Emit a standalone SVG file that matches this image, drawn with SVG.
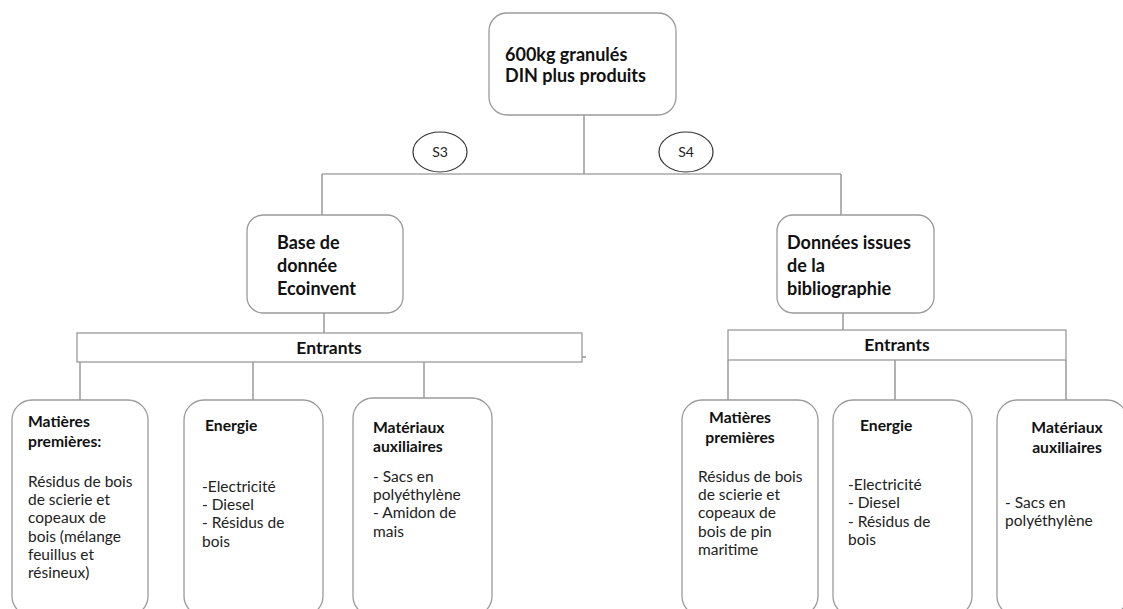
<svg xmlns="http://www.w3.org/2000/svg" width="1123" height="609" viewBox="0 0 1123 609">
<style>
.box{fill:#fff;stroke:#9a9a9a;stroke-width:1.3}
.ent{fill:#fff;stroke:#9a9a9a;stroke-width:1.3}
.ell{fill:#fff;stroke:#333;stroke-width:1.2}
.ln{stroke:#7f7f7f;stroke-width:1.2;fill:none}
.b{font-family:Lato,"Liberation Sans",sans-serif;font-weight:bold;font-size:18px;fill:#111}
.e{font-family:Lato,"Liberation Sans",sans-serif;font-weight:bold;font-size:17.5px;fill:#111}
.h{font-family:Lato,"Liberation Sans",sans-serif;font-weight:bold;font-size:15.7px;fill:#111}
.t{font-family:Lato,"Liberation Sans",sans-serif;font-size:15.5px;fill:#222}
.s{font-family:Lato,"Liberation Sans",sans-serif;font-size:14px;fill:#222}
</style>
<rect width="1123" height="609" fill="#fff"/>
<g id="connectors">
<line class="ln" x1="584" y1="115" x2="584" y2="174"/>
<line class="ln" x1="322" y1="174" x2="841" y2="174"/>
<line class="ln" x1="322" y1="174" x2="322" y2="215"/>
<line class="ln" x1="841" y1="174" x2="841" y2="215"/>
<line class="ln" x1="324" y1="313" x2="324" y2="333"/>
<line class="ln" x1="843" y1="313" x2="843" y2="330"/>
<line class="ln" x1="80" y1="362" x2="80" y2="400"/>
<line class="ln" x1="253" y1="362" x2="253" y2="400"/>
<line class="ln" x1="424" y1="362" x2="424" y2="398"/>
<line class="ln" x1="582" y1="357" x2="586" y2="357"/>
<line class="ln" x1="728" y1="360" x2="728" y2="400"/>
<line class="ln" x1="895" y1="360" x2="895" y2="400"/>
<line class="ln" x1="1066" y1="360" x2="1066" y2="400"/>
</g>
<g id="n-top">
<rect class="box" x="489" y="13" width="187" height="102" rx="18"/>
<text class="b" x="505" y="61">600kg granulés</text>
<text class="b" x="505" y="82">DIN plus produits</text>
</g>
<g id="n-s3">
<ellipse class="ell" cx="440" cy="152" rx="27" ry="20"/>
<text class="s" x="440" y="157" text-anchor="middle">S3</text>
</g>
<g id="n-s4">
<ellipse class="ell" cx="686" cy="152" rx="27" ry="20"/>
<text class="s" x="686" y="157" text-anchor="middle">S4</text>
</g>
<g id="n-ecoinvent">
<rect class="box" x="247" y="215" width="156" height="98" rx="16"/>
<text class="b" x="277" y="249">Base de</text>
<text class="b" x="277" y="272">donnée</text>
<text class="b" x="277" y="295">Ecoinvent</text>
</g>
<g id="n-biblio">
<rect class="box" x="777" y="215" width="157" height="98" rx="16"/>
<text class="b" x="787" y="249">Données issues</text>
<text class="b" x="787" y="272">de la</text>
<text class="b" x="787" y="295">bibliographie</text>
</g>
<g id="n-entrants-left">
<rect class="ent" x="77" y="333" width="505" height="29"/>
<text class="e" x="329" y="354" text-anchor="middle">Entrants</text>
</g>
<g id="n-entrants-right">
<rect class="ent" x="728" y="330" width="338" height="30"/>
<text class="e" x="897" y="351" text-anchor="middle">Entrants</text>
</g>
<g id="n-mp1">
<rect class="box" x="12" y="400" width="136" height="216" rx="20"/>
<text class="h" x="28" y="427">Matières</text>
<text class="h" x="28" y="447">premières:</text>
<text class="t" x="28" y="487">Résidus de bois</text>
<text class="t" x="28" y="505">de scierie et</text>
<text class="t" x="28" y="523">copeaux de</text>
<text class="t" x="28" y="542">bois (mélange</text>
<text class="t" x="28" y="560">feuillus et</text>
<text class="t" x="28" y="578">résineux)</text>
</g>
<g id="n-en1">
<rect class="box" x="184" y="400" width="139" height="216" rx="20"/>
<text class="h" x="205" y="431">Energie</text>
<text class="t" x="202" y="492">-Electricité</text>
<text class="t" x="202" y="510">- Diesel</text>
<text class="t" x="202" y="528">- Résidus de</text>
<text class="t" x="202" y="547">bois</text>
</g>
<g id="n-ma1">
<rect class="box" x="353" y="398" width="139" height="218" rx="20"/>
<text class="h" x="373" y="433">Matériaux</text>
<text class="h" x="373" y="452">auxiliaires</text>
<text class="t" x="373" y="482">- Sacs en</text>
<text class="t" x="373" y="500">polyéthylène</text>
<text class="t" x="373" y="518">- Amidon de</text>
<text class="t" x="373" y="537">mais</text>
</g>
<g id="n-mp2">
<rect class="box" x="682" y="400" width="136" height="216" rx="20"/>
<text class="h" x="740" y="423" text-anchor="middle">Matières</text>
<text class="h" x="740" y="443" text-anchor="middle">premières</text>
<text class="t" x="698" y="482">Résidus de bois</text>
<text class="t" x="698" y="500">de scierie et</text>
<text class="t" x="698" y="518">copeaux de</text>
<text class="t" x="698" y="537">bois de pin</text>
<text class="t" x="698" y="555">maritime</text>
</g>
<g id="n-en2">
<rect class="box" x="833" y="400" width="139" height="216" rx="20"/>
<text class="h" x="860" y="431">Energie</text>
<text class="t" x="848" y="490">-Electricité</text>
<text class="t" x="848" y="508">- Diesel</text>
<text class="t" x="848" y="527">- Résidus de</text>
<text class="t" x="848" y="545">bois</text>
</g>
<g id="n-ma2">
<rect class="box" x="997" y="400" width="130" height="216" rx="20"/>
<text class="h" x="1067" y="433" text-anchor="middle">Matériaux</text>
<text class="h" x="1067" y="453" text-anchor="middle">auxiliaires</text>
<text class="t" x="1005" y="508">- Sacs en</text>
<text class="t" x="1005" y="526">polyéthylène</text>
</g>
</svg>
